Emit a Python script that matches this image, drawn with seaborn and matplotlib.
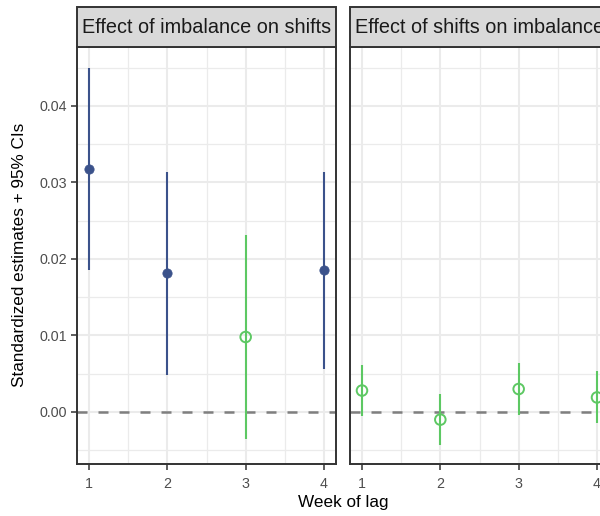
import pandas as pd
import matplotlib
matplotlib.use('Agg')
import matplotlib.pyplot as plt
from matplotlib.patches import Rectangle
from matplotlib.ticker import MultipleLocator
import seaborn as sns

# data
panels = ['Effect of imbalance on shifts', 'Effect of shifts on imbalance']
weeks = [1, 2, 3, 4]
imb_est = [0.0318, 0.0182, 0.0098, 0.0186]
imb_lo = [0.0186, 0.0048, -0.0035, 0.0056]
imb_hi = [0.0450, 0.0314, 0.0231, 0.0314]
imb_sig = [True, True, False, True]
shf_est = [0.0028, -0.0010, 0.0030, 0.0019]
shf_lo = [-0.0005, -0.0043, -0.0004, -0.0014]
shf_hi = [0.0062, 0.0024, 0.0064, 0.0053]
shf_sig = [False, False, False, False]
y_ticks = [0.00, 0.01, 0.02, 0.03, 0.04]

SIG_COLOR = '#3B528B'
NS_COLOR = '#5DC863'
BORDER = '#333333'
GRID = '#EBEBEB'

sns.set_theme(style='white')
plt.rcParams['font.family'] = ['Liberation Sans', 'DejaVu Sans']

df = pd.concat([
    pd.DataFrame({'panel': panels[0], 'week': weeks, 'est': imb_est,
                  'lo': imb_lo, 'hi': imb_hi, 'sig': imb_sig}),
    pd.DataFrame({'panel': panels[1], 'week': weeks, 'est': shf_est,
                  'lo': shf_lo, 'hi': shf_hi, 'sig': shf_sig}),
], ignore_index=True)

W, H = 600, 516
fig = plt.figure(figsize=(W / 100, H / 100), dpi=100)

# panel boxes in pixels (the right one runs past the figure edge, as in the crop)
panel_px = [(77, 336), (350, 609)]
top_px, bottom_px, strip_top = 47, 464, 7

ymin, ymax = -0.0068, 0.0477
xmin, xmax = 0.847, 4.153

for i, (name, (x0, x1)) in enumerate(zip(panels, panel_px)):
    ax = fig.add_axes([x0 / W, 1 - bottom_px / H, (x1 - x0) / W, (bottom_px - top_px) / H])
    sub = df[df['panel'] == name]

    ax.set_xlim(xmin, xmax)
    ax.set_ylim(ymin, ymax)
    ax.set_xticks(weeks)
    ax.set_yticks(y_ticks)
    ax.xaxis.set_minor_locator(MultipleLocator(0.5))
    ax.yaxis.set_minor_locator(MultipleLocator(0.005))
    ax.grid(True, which='major', color=GRID, linewidth=1.5)
    ax.grid(True, which='minor', color=GRID, linewidth=0.9)
    ax.set_axisbelow(True)
    ax.tick_params(which='minor', length=0)

    ax.axhline(0, color='#7F7F7F', linewidth=1.8, linestyle=(0, (4, 4.4)), zorder=1.5)

    colors = [SIG_COLOR if s else NS_COLOR for s in sub['sig']]
    ax.vlines(sub['week'], sub['lo'], sub['hi'], colors=colors, linewidth=1.5, zorder=2)

    sig = sub[sub['sig']]
    ns = sub[~sub['sig']]
    if len(sig):
        sns.scatterplot(data=sig, x='week', y='est', ax=ax, color=SIG_COLOR,
                        s=45, edgecolor=SIG_COLOR, linewidth=0.5, zorder=3, legend=False)
    if len(ns):
        sns.scatterplot(data=ns, x='week', y='est', ax=ax, marker='o',
                        facecolors='none', edgecolor=NS_COLOR, s=58, linewidth=1.4,
                        zorder=3, legend=False)

    ax.set_xlabel('')
    ax.set_ylabel('')
    for sp in ax.spines.values():
        sp.set_visible(True)
        sp.set_color(BORDER)
        sp.set_linewidth(1.4)

    ax.tick_params(axis='x', which='major', length=4, width=1.1, color=BORDER,
                   labelsize=10.3, labelcolor='#4D4D4D', pad=5, bottom=True)
    if i == 0:
        ax.tick_params(axis='y', which='major', length=4, width=1.1, color=BORDER,
                       labelsize=10.3, labelcolor='#4D4D4D', pad=3, left=True)
        ax.set_yticklabels([f'{v:.2f}' for v in y_ticks])
    else:
        ax.tick_params(axis='y', which='major', left=False, labelleft=False)

    # facet strip
    strip_h = (top_px - strip_top) / (bottom_px - top_px)
    ax.add_patch(Rectangle((0, 1), 1, strip_h, transform=ax.transAxes,
                           facecolor='#D9D9D9', edgecolor=BORDER, linewidth=1.4,
                           clip_on=False, zorder=5))
    ax.text(0.5, 1 + strip_h / 2, name, transform=ax.transAxes, ha='center', va='center',
            fontsize=14.3, color='#1A1A1A', zorder=6, clip_on=False)

fig.text(343 / W, 1 - 502 / H, 'Week of lag', ha='center', va='center', fontsize=12.3, color='black')
fig.text(20 / W, 1 - 255 / H, 'Standardized estimates + 95% CIs', ha='center', va='center',
         rotation=90, fontsize=12.3, color='black')

fig.savefig('out.png', dpi=100)
